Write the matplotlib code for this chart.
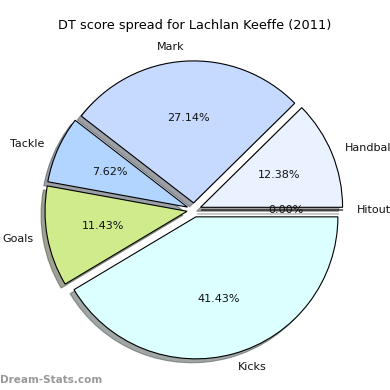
import matplotlib
matplotlib.use("Agg")
import matplotlib.pyplot as plt

# DT points per category (counter-clockwise from 3 o'clock)
labels = ["Handball", "Mark", "Tackle", "Goals", "Kicks", "Hitout"]
points = [26, 57, 16, 24, 87, 0]
colors = ["#eaf1ff", "#c6d9ff", "#b2d5ff", "#d0eb8b", "#dcffff", "#e0e0e0"]
explode = [0.05] * len(points)

title = "DT score spread for Lachlan Keeffe (2011)"

fig = plt.figure(figsize=(3.9, 3.9), dpi=100)
ax = fig.add_axes([0, 0, 1, 1])

ax.pie(points, labels=labels, colors=colors, explode=explode,
       autopct="%1.2f%%", shadow=True, startangle=0,
       wedgeprops={"edgecolor": "black", "linewidth": 0.8},
       textprops={"fontsize": 8, "color": "#111111"})

# pie radius ~142 px, centre at (194, 210) px from top-left
R, cx, cy = 142, 194, 210
ax.set_xlim(-cx / R, (390 - cx) / R)
ax.set_ylim(-(390 - cy) / R, cy / R)
ax.axis("off")

fig.text(0.5, 1 - 25 / 390, title, ha="center", va="center", fontsize=9.3)
fig.text(0.0, 1 - 380 / 390, "Dream-Stats.com", ha="left", va="center",
         fontsize=7.5, color="#999999", fontweight="bold")

fig.savefig("out.png", dpi=100)
